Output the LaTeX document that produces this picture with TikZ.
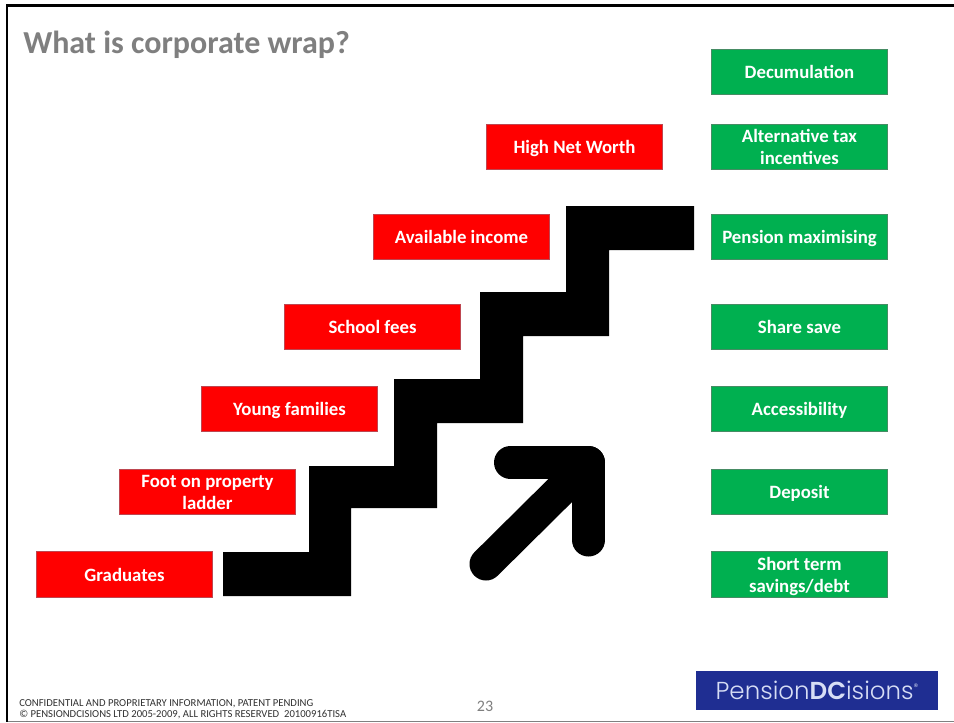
\documentclass[tikz,border=0pt]{standalone}
\usepackage{fontspec}
\setmainfont{Carlito}
\newfontfamily\logofont{Poppins Light}
\tikzset{
  labelbox/.style={minimum width=132.2pt,minimum height=34pt,inner sep=0pt,align=center,text=white,
    text height=11pt,text depth=1pt,
    font=\fontsize{14.1pt}{16.4pt}\selectfont\bfseries,line width=0.6pt},
  twolines/.style={text height=27.4pt},
  redbox/.style={labelbox,fill=red,draw={rgb,255:red,190;green,70;blue,80}},
  greenbox/.style={labelbox,fill={rgb,255:red,0;green,176;blue,80},draw={rgb,255:red,70;green,140;blue,100}},
  footertext/.style={anchor=west,inner sep=0pt,font=\fontsize{8pt}{9pt}\selectfont,text={rgb,255:red,50;green,50;blue,50}}
}
\definecolor{titlegray}{RGB}{127,127,127}
\definecolor{logoblue}{RGB}{31,46,146}
\definecolor{logotext}{RGB}{215,222,245}
\begin{document}
\begin{tikzpicture}[x=0.75pt,y=-0.75pt]
\useasboundingbox (0,0) rectangle (954,722);
\fill[white] (0,0) rectangle (954,722);
% slide frame
\fill[black] (6,4) rectangle (954,6.5);
\fill[black] (6,4) rectangle (8,722);
\fill[gray] (8,720.6) rectangle (954,722);
% title
\node[anchor=west,inner sep=0pt,text=titlegray,font=\fontsize{24pt}{28pt}\selectfont\bfseries] (title) at (23,45) {What is corporate wrap?};
% staircase
\fill[black] (223,552) -- (309,552) -- (309,466) -- (394,466) -- (394,379) -- (480,379) -- (480,292) -- (566,292) -- (566,206)
  -- (694,206) -- (694,250) -- (609,250) -- (609,336) -- (523,336) -- (523,423) -- (437,423) -- (437,508) -- (351,508) -- (351,596) -- (223,596) -- cycle;
% arrow
\draw[black,line width=24.75pt,line cap=round,line join=round] (510.5,462.5) -- (588.5,462.5) -- (588.5,540);
\draw[black,line width=24.75pt,line cap=round] (486,564) -- (588.5,462.5);
% red boxes
\node[redbox] (r6) at (574.5,147) {High Net Worth};
\node[redbox] (r5) at (461.5,237) {Available income};
\node[redbox] (r4) at (372.5,327) {School fees};
\node[redbox] (r3) at (289.5,409) {Young families};
\node[redbox,twolines] (r2) at (207.5,492) {Foot on property\\ladder};
\node[redbox] (r1) at (124.5,574.5) {Graduates};
% green boxes
\node[greenbox] (g7) at (799.5,72) {Decumulation};
\node[greenbox,twolines] (g6) at (799.5,147) {Alternative tax\\incentives};
\node[greenbox] (g5) at (799.5,237) {Pension maximising};
\node[greenbox] (g4) at (799.5,327) {Share save};
\node[greenbox] (g3) at (799.5,409) {Accessibility};
\node[greenbox] (g2) at (799.5,492) {Deposit};
\node[greenbox,twolines] (g1) at (799.5,574.5) {Short term\\savings/debt};
% logo
\node[fill=logoblue,minimum width=181.5pt,minimum height=29.25pt,inner sep=0pt,text=logotext,
  font=\logofont\fontsize{18.4pt}{20pt}\selectfont] (logo) at (817,690.5) {Pension\textbf{DC}isions\raisebox{7pt}{\fontsize{7pt}{8pt}\selectfont®}};
% footer
\node[footertext] (f1) at (19,703.5) {CONFIDENTIAL AND PROPRIETARY INFORMATION, PATENT PENDING};
\node[footertext] (f2) at (19,715) {© PENSIONDCISIONS LTD 2005-2009, ALL RIGHTS RESERVED\ \ 20100916TISA};
\node[inner sep=0pt,text=titlegray,font=\fontsize{12pt}{14pt}\selectfont] (page) at (485,706) {23};
\end{tikzpicture}
\end{document}
